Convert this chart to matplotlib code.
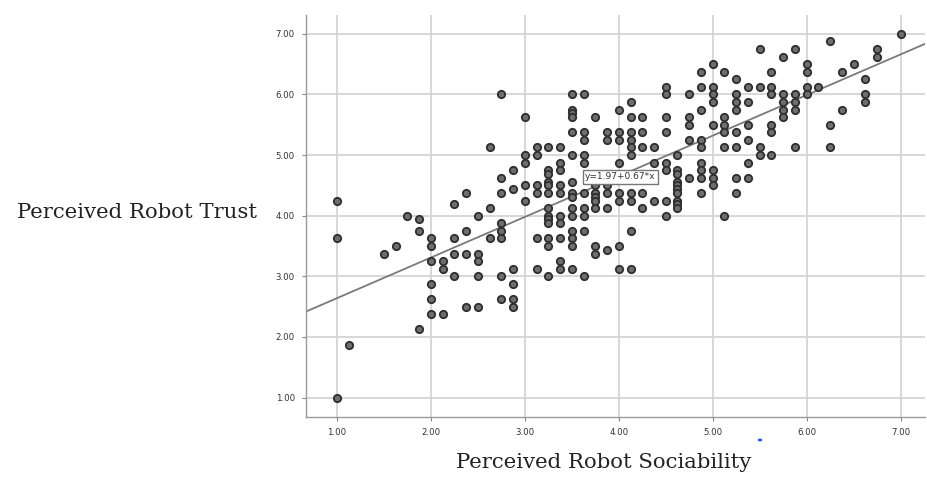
import matplotlib
matplotlib.use("Agg")
import matplotlib.pyplot as plt
from matplotlib.patches import Circle

# ---- data ----
sociability_levels = [1.0, 1.125, 1.5, 1.625, 1.75, 1.875, 2.0, 2.125, 2.25, 2.375,
                      2.5, 2.625, 2.75, 2.875, 3.0, 3.125, 3.25, 3.375, 3.5, 3.625,
                      3.75, 3.875, 4.0, 4.125, 4.25, 4.375, 4.5, 4.625, 4.75, 4.875,
                      5.0, 5.125, 5.25, 5.375, 5.5, 5.625, 5.75, 5.875, 6.0, 6.125,
                      6.25, 6.375, 6.5, 6.625, 6.75, 7.0]
trust_at_level = [
    [4.25, 3.625, 1.0],
    [1.875],
    [3.375],
    [3.5],
    [4.0],
    [3.9375, 3.75, 2.125],
    [3.625, 3.5, 3.25, 2.875, 2.625, 2.375],
    [3.25, 3.125, 2.375],
    [4.1875, 3.625, 3.375, 3.0],
    [4.375, 3.75, 3.375, 2.5],
    [4.0, 3.375, 3.25, 3.0, 2.5],
    [5.125, 4.125, 3.625],
    [6.0, 4.625, 4.375, 3.875, 3.75, 3.625, 3.0, 2.625],
    [4.75, 4.4375, 3.125, 2.875, 2.625, 2.5],
    [5.625, 5.0, 4.875, 4.5, 4.25],
    [5.125, 5.0, 4.5, 4.375, 3.625, 3.125],
    [5.125, 4.75, 4.6875, 4.5625, 4.5, 4.375, 4.125, 4.0, 3.9375, 3.875, 3.625, 3.5, 3.0],
    [5.125, 4.875, 4.75, 4.5, 4.375, 4.0, 3.875, 3.625, 3.25, 3.125],
    [6.0, 5.75, 5.6875, 5.625, 5.375, 5.0, 4.5625, 4.375, 4.3125, 4.125, 4.0, 3.75, 3.625, 3.5, 3.125],
    [6.0, 5.375, 5.25, 5.0, 4.875, 4.375, 4.125, 4.0, 3.75, 3.0],
    [5.625, 4.5, 4.375, 4.3125, 4.25, 4.125, 3.5, 3.375],
    [5.375, 5.25, 4.5, 4.375, 4.125, 3.4375],
    [5.75, 5.375, 5.25, 4.875, 4.375, 4.25, 3.5, 3.125],
    [5.875, 5.625, 5.375, 5.25, 5.125, 5.0, 4.375, 4.25, 3.75, 3.125],
    [5.625, 5.375, 5.125, 4.375, 4.125],
    [5.125, 4.875, 4.25],
    [6.125, 6.0, 5.625, 5.375, 4.875, 4.75, 4.25, 4.0],
    [5.0, 4.75, 4.6875, 4.5625, 4.5, 4.4375, 4.375, 4.25, 4.1875, 4.125],
    [6.0, 5.625, 5.5, 5.25, 4.625],
    [6.375, 6.125, 5.75, 5.25, 5.125, 4.875, 4.75, 4.625, 4.375],
    [6.5, 6.125, 6.0, 5.875, 5.5, 4.75, 4.625, 4.5],
    [6.375, 5.625, 5.5, 5.375, 5.125, 4.0],
    [6.25, 6.0, 5.875, 5.75, 5.375, 5.125, 4.625, 4.375],
    [6.125, 5.875, 5.5, 5.25, 4.875, 4.625],
    [6.75, 6.125, 5.125, 5.0],
    [6.375, 6.125, 6.0, 5.5, 5.375, 5.0],
    [6.625, 6.0, 5.875, 5.75, 5.625],
    [6.75, 6.0, 5.875, 5.75, 5.125],
    [6.5, 6.375, 6.125, 6.0],
    [6.125],
    [6.875, 5.5, 5.125],
    [6.375, 5.75],
    [6.5],
    [6.25, 6.0, 5.875],
    [6.75, 6.625],
    [7.0],
]
intercept = 1.97
slope = 0.67
fit_label = "y=1.97+0.67*x"
tick_values = [1, 2, 3, 4, 5, 6, 7]
tick_labels = ["1.00", "2.00", "3.00", "4.00", "5.00", "6.00", "7.00"]
x_title = "Perceived Robot Sociability"
y_title = "Perceived Robot Trust"

# flatten
xs, ys = [], []
for lv, tl in zip(sociability_levels, trust_at_level):
    for t in tl:
        xs.append(lv)
        ys.append(t)

fig = plt.figure(figsize=(9.28, 4.78), dpi=100)
ax = fig.add_axes([306 / 928, 1 - 417 / 478, (925 - 306) / 928, (417 - 15) / 478])
ax.set_xlim(0.67, 7.26)
ax.set_ylim(0.68, 7.31)

ax.grid(True, color="#d4d4d4", linewidth=1.3, zorder=0)
ax.set_axisbelow(True)

ax.scatter(xs, ys, s=28, facecolor="#6e6e6e", edgecolor="#2e2e2e",
           linewidth=1.3, zorder=3)

lx = [0.67, 7.26]
ly = [intercept + slope * v for v in lx]
ax.plot(lx, ly, color="#7a7a7a", linewidth=1.3, zorder=2)

ax.text(3.64, 4.64, fit_label, fontsize=6.5, color="#333333", va="center", ha="left",
        zorder=5, bbox=dict(boxstyle="square,pad=0.25", facecolor="white",
                            edgecolor="#777777", linewidth=1.0))

ax.set_xticks(tick_values)
ax.set_xticklabels(tick_labels)
ax.set_yticks(tick_values)
ax.set_yticklabels(tick_labels)
ax.tick_params(axis="both", labelsize=6.2, labelcolor="#333333", color="#888888",
               length=3, width=0.8)
ax.tick_params(axis="x", pad=5)
ax.tick_params(axis="y", pad=5)

for side in ["top", "right"]:
    ax.spines[side].set_visible(False)
for side in ["left", "bottom"]:
    ax.spines[side].set_color("#999999")
    ax.spines[side].set_linewidth(1.0)

fig.text(17 / 928, 1 - 213 / 478, y_title, fontsize=15.3, family="DejaVu Serif",
         ha="left", va="center", color="#222222")
fig.text(604 / 928, 1 - 463 / 478, x_title, fontsize=15.3, family="DejaVu Serif",
         ha="center", va="center", color="#222222")

# small blue speck visible in the reference image
fig.patches.append(Circle((760 / 928, 1 - 440 / 478), 1.5 / 928,
                          transform=fig.transFigure, color="#3050ff"))

fig.savefig("out.png", dpi=100)
